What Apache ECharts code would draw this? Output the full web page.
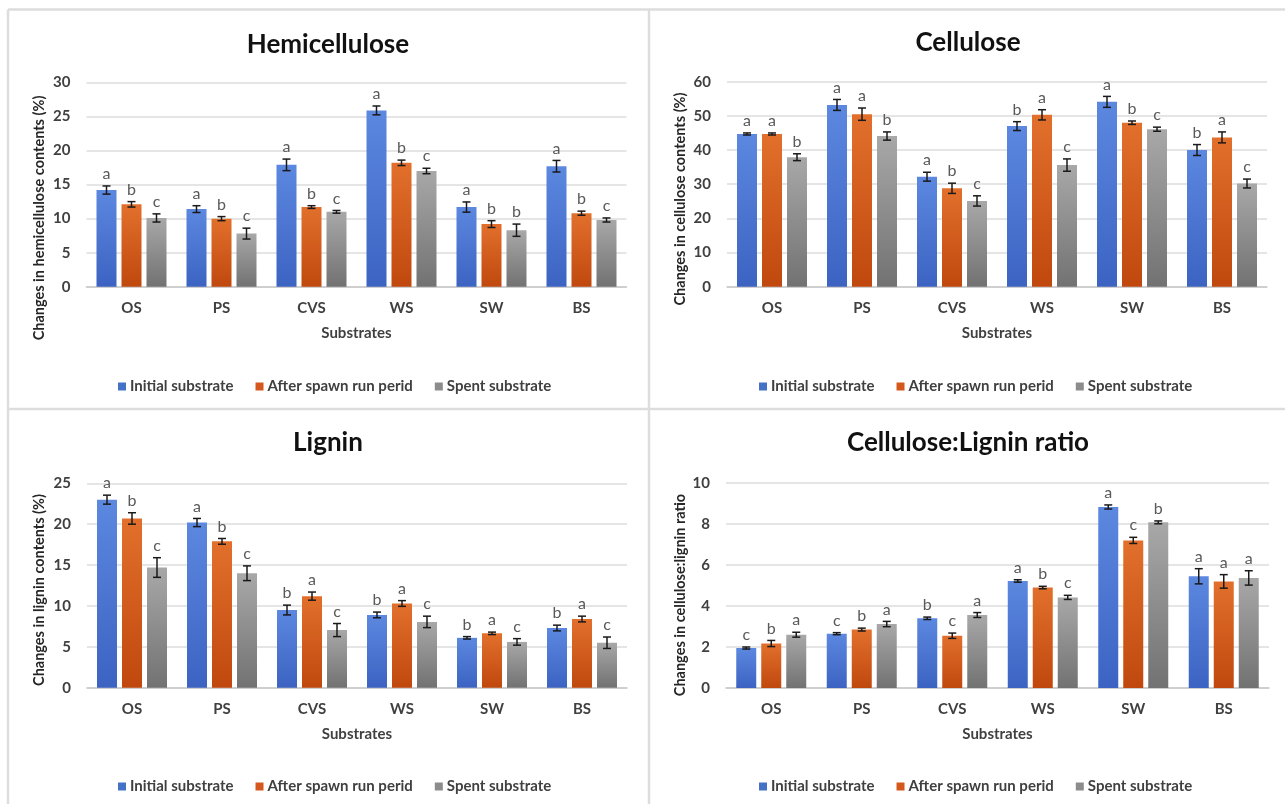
<!DOCTYPE html>
<html>
<head>
<meta charset="utf-8">
<script src="https://cdn.jsdelivr.net/npm/echarts@6/dist/echarts.min.js"></script>
<style>
html,body{margin:0;padding:0;background:#fff;}
#chart{width:1285px;height:804px;}
</style>
</head>
<body>
<div id="chart"></div>
<script>
const categories = ['OS', 'PS', 'CVS', 'WS', 'SW', 'BS'];
const seriesNames = ['Initial substrate', 'After spawn run perid', 'Spent substrate'];
const panelTitles = ['Hemicellulose', 'Cellulose', 'Lignin', 'Cellulose:Lignin ratio'];
const yTitles = ['Changes in hemicellulose contents (%)', 'Changes in cellulose contents (%)', 'Changes in lignin contents (%)', 'Changes in cellulose:lignin ratio'];
const xTitle = 'Substrates';

// Hemicellulose
const hemiInitial = [14.2, 11.4, 17.9, 25.9, 11.7, 17.7];
const hemiAfter   = [12.1, 10.0, 11.7, 18.2, 9.2, 10.8];
const hemiSpent   = [10.1, 7.8, 11.0, 17.0, 8.3, 9.8];
const hemiInitialErr = [0.6, 0.5, 0.85, 0.65, 0.75, 0.85];
const hemiAfterErr   = [0.4, 0.3, 0.2, 0.4, 0.5, 0.3];
const hemiSpentErr   = [0.6, 0.8, 0.2, 0.4, 0.9, 0.3];
const hemiInitialSig = ['a', 'a', 'a', 'a', 'a', 'a'];
const hemiAfterSig   = ['b', 'b', 'b', 'b', 'b', 'b'];
const hemiSpentSig   = ['c', 'c', 'c', 'c', 'b', 'c'];

// Cellulose
const celInitial = [44.7, 53.2, 32.2, 47.0, 54.1, 40.0];
const celAfter   = [44.7, 50.5, 28.8, 50.3, 48.0, 43.7];
const celSpent   = [37.9, 44.1, 25.1, 35.6, 46.1, 30.2];
const celInitialErr = [0.3, 1.6, 1.3, 1.3, 1.6, 1.6];
const celAfterErr   = [0.3, 1.8, 1.5, 1.5, 0.5, 1.6];
const celSpentErr   = [1.0, 1.2, 1.5, 1.8, 0.6, 1.3];
const celInitialSig = ['a', 'a', 'a', 'b', 'a', 'b'];
const celAfterSig   = ['a', 'a', 'b', 'a', 'b', 'a'];
const celSpentSig   = ['b', 'b', 'c', 'c', 'c', 'c'];

// Lignin
const ligInitial = [23.0, 20.2, 9.5, 8.9, 6.1, 7.3];
const ligAfter   = [20.7, 17.9, 11.2, 10.3, 6.65, 8.4];
const ligSpent   = [14.7, 14.0, 7.05, 8.05, 5.6, 5.5];
const ligInitialErr = [0.55, 0.5, 0.6, 0.35, 0.15, 0.35];
const ligAfterErr   = [0.7, 0.35, 0.5, 0.35, 0.15, 0.35];
const ligSpentErr   = [1.2, 0.9, 0.8, 0.7, 0.4, 0.7];
const ligInitialSig = ['a', 'a', 'b', 'b', 'b', 'b'];
const ligAfterSig   = ['b', 'b', 'a', 'a', 'a', 'a'];
const ligSpentSig   = ['c', 'c', 'c', 'c', 'c', 'c'];

// Cellulose:Lignin ratio
const ratInitial = [1.95, 2.65, 3.4, 5.22, 8.83, 5.45];
const ratAfter   = [2.17, 2.85, 2.55, 4.9, 7.2, 5.2];
const ratSpent   = [2.6, 3.12, 3.56, 4.42, 8.08, 5.37];
const ratInitialErr = [0.05, 0.05, 0.06, 0.06, 0.1, 0.37];
const ratAfterErr   = [0.15, 0.07, 0.13, 0.06, 0.15, 0.33];
const ratSpentErr   = [0.12, 0.13, 0.12, 0.1, 0.07, 0.35];
const ratInitialSig = ['c', 'c', 'b', 'a', 'a', 'a'];
const ratAfterSig   = ['b', 'b', 'c', 'b', 'c', 'a'];
const ratSpentSig   = ['a', 'a', 'a', 'c', 'b', 'a'];

const yMax = [30, 60, 25, 10];
const yInterval = [5, 10, 5, 2];

const panels = [
  [[hemiInitial, hemiInitialErr, hemiInitialSig], [hemiAfter, hemiAfterErr, hemiAfterSig], [hemiSpent, hemiSpentErr, hemiSpentSig]],
  [[celInitial, celInitialErr, celInitialSig], [celAfter, celAfterErr, celAfterSig], [celSpent, celSpentErr, celSpentSig]],
  [[ligInitial, ligInitialErr, ligInitialSig], [ligAfter, ligAfterErr, ligAfterSig], [ligSpent, ligSpentErr, ligSpentSig]],
  [[ratInitial, ratInitialErr, ratInitialSig], [ratAfter, ratAfterErr, ratAfterSig], [ratSpent, ratSpentErr, ratSpentSig]]
];

const FONT = 'Lato, "Open Sans", sans-serif';
const gradients = [
  {type: 'linear', x: 0, y: 0, x2: 0, y2: 1, colorStops: [{offset: 0, color: '#5c88e0'}, {offset: 1, color: '#3c63c2'}]},
  {type: 'linear', x: 0, y: 0, x2: 0, y2: 1, colorStops: [{offset: 0, color: '#e2702c'}, {offset: 1, color: '#c0480e'}]},
  {type: 'linear', x: 0, y: 0, x2: 0, y2: 1, colorStops: [{offset: 0, color: '#a8a8a8'}, {offset: 1, color: '#727272'}]}
];
const legendColors = ['#4472c4', '#d4581c', '#8c8c8c'];

const grids = [
  {left: 86.5, top: 82.5, width: 540, height: 204.2},
  {left: 727, top: 81.7, width: 540, height: 205},
  {left: 87, top: 483.3, width: 540, height: 204.4},
  {left: 726, top: 483, width: 543, height: 205}
];
const panelCenters = [328, 968, 328, 968];
const titleY = [45, 43, 443, 443];
const yTitlePos = [[39, 218], [680, 199], [39, 590], [680, 595]];
const legendPos = [[113, 374], [754, 374], [113, 774], [754, 774]];

const BAR_W = 20, BAR_GAP = 5;

const xAxes = [], yAxes = [], series = [], legends = [], graphics = [];

grids.forEach((g, gi) => {
  xAxes.push({
    type: 'category', gridIndex: gi, data: categories,
    name: xTitle, nameLocation: 'middle', nameGap: 39,
    nameTextStyle: {fontFamily: FONT, fontSize: 15, fontWeight: 'bold', color: '#404040'},
    axisLine: {lineStyle: {color: '#c8c8c8', width: 1.5}},
    axisTick: {show: false},
    axisLabel: {fontFamily: FONT, fontSize: 15, fontWeight: 'bold', color: '#404040', margin: 14}
  });
  yAxes.push({
    type: 'value', gridIndex: gi, min: 0, max: yMax[gi], interval: yInterval[gi],
    axisLine: {show: false}, axisTick: {show: false},
    splitLine: {lineStyle: {color: '#dcdcdc', width: 1.5}},
    axisLabel: {fontFamily: FONT, fontSize: 15, fontWeight: 'bold', color: '#404040', margin: 16}
  });
  panels[gi].forEach((s, si) => {
    series.push({
      type: 'bar', name: seriesNames[si], xAxisIndex: gi, yAxisIndex: gi,
      data: s[0], barWidth: BAR_W, barGap: (BAR_GAP / BAR_W * 100) + '%',
      itemStyle: {color: gradients[si]},
      emphasis: {disabled: true}
    });
  });
  panels[gi].forEach((s, si) => {
    const vals = s[0], errs = s[1], sig = s[2];
    series.push({
      type: 'custom', name: 'errorbar', xAxisIndex: gi, yAxisIndex: gi, z: 10, silent: true,
      encode: {x: 0, y: 1},
      data: vals.map((v, k) => [k, v + errs[k], v - errs[k]]),
      renderItem: (params, api) => {
        const c = api.value(0);
        const hi = api.coord([c, api.value(1)]);
        const lo = api.coord([c, api.value(2)]);
        const x = hi[0] + (si - 1) * (BAR_W + BAR_GAP);
        const cap = 4;
        const ls = {stroke: '#1a1a1a', lineWidth: 1.5};
        return {
          type: 'group',
          children: [
            {type: 'line', shape: {x1: x, y1: hi[1], x2: x, y2: lo[1]}, style: ls},
            {type: 'line', shape: {x1: x - cap, y1: hi[1], x2: x + cap, y2: hi[1]}, style: ls},
            {type: 'line', shape: {x1: x - cap, y1: lo[1], x2: x + cap, y2: lo[1]}, style: ls},
            {type: 'text', x: x, y: hi[1] - 4, style: {text: sig[params.dataIndex], fontFamily: FONT, fontSize: 16, fill: '#595959', align: 'center', verticalAlign: 'bottom'}}
          ]
        };
      }
    });
  });
  legends.push({
    data: seriesNames.map((n, i) => ({name: n, itemStyle: {color: legendColors[i]}})),
    left: legendPos[gi][0], top: legendPos[gi][1],
    icon: 'rect', itemWidth: 8, itemHeight: 8, itemGap: 22,
    selectedMode: false,
    textStyle: {fontFamily: FONT, fontSize: 15, fontWeight: 'bold', color: '#404040', padding: [0, 0, 0, -1]}
  });
  graphics.push({
    type: 'text', x: panelCenters[gi], y: titleY[gi],
    style: {text: panelTitles[gi], fontFamily: FONT, fontSize: 26, fontWeight: 'bold', fill: '#111', align: 'center', verticalAlign: 'middle'}
  });
  graphics.push({
    type: 'text', x: yTitlePos[gi][0], y: yTitlePos[gi][1], rotation: Math.PI / 2,
    style: {text: yTitles[gi], fontFamily: FONT, fontSize: 14.5, fontWeight: 'bold', fill: '#262626', align: 'center', verticalAlign: 'middle'}
  });
});

// panel frame lines
const frameColor = '#dddddd';
[[8, 9.5, 1285, 9.5], [8, 409, 1285, 409], [8, 9.5, 8, 804], [649, 9.5, 649, 804]].forEach(l => {
  graphics.push({type: 'line', shape: {x1: l[0], y1: l[1], x2: l[2], y2: l[3]}, style: {stroke: frameColor, lineWidth: 2.5}, z: -1});
});

const chart = echarts.init(document.getElementById('chart'), null, {renderer: 'canvas'});
chart.setOption({
  animation: false,
  backgroundColor: '#fff',
  grid: grids,
  xAxis: xAxes,
  yAxis: yAxes,
  legend: legends,
  series: series,
  graphic: graphics
});
</script>
</body>
</html>
